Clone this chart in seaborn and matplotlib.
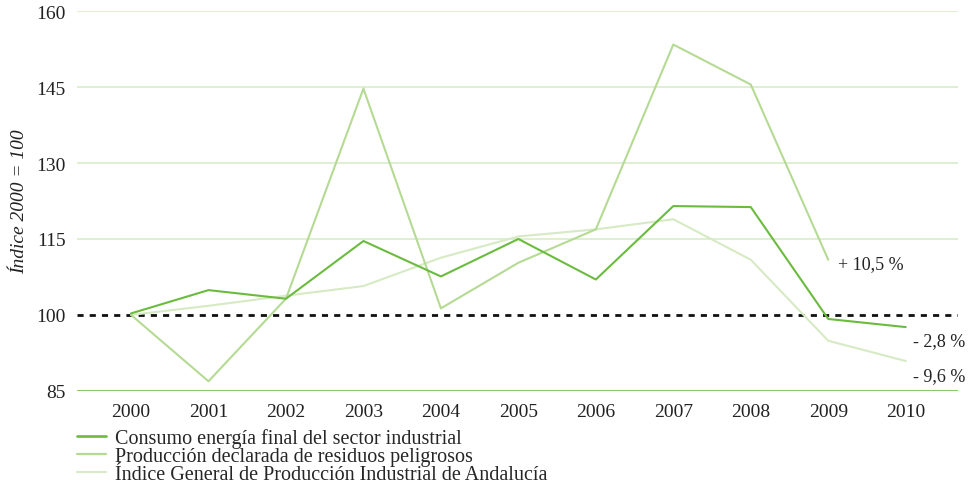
import numpy as np
import pandas as pd
import matplotlib
matplotlib.use("Agg")
import matplotlib.pyplot as plt
import seaborn as sns

# datos (indice 2000 = 100)
years = list(range(2000, 2011))
energia = [100.3, 104.9, 103.2, 114.6, 107.6, 115.0, 107.0, 121.5, 121.3, 99.2, 97.6]
residuos = [100.0, 86.9, 103.2, 144.7, 101.3, 110.3, 116.9, 153.4, 145.5, 110.9]
indice = [100.0, 101.8, 103.8, 105.7, 111.3, 115.5, 116.9, 118.9, 110.9, 94.9, 90.9]

series_names = [
    "Consumo energía final del sector industrial",
    "Producción declarada de residuos peligrosos",
    "Índice General de Producción Industrial de Andalucía",
]
series_colors = ["#6bbb3e", "#b5da94", "#d6eac4"]
y_ticks = [85, 100, 115, 130, 145, 160]
annotations = [("+ 10,5 %", 2009.12, 110.2), ("- 2,8 %", 2010.1, 95.0), ("- 9,6 %", 2010.1, 88.1)]

frames = []
for name, vals in zip(series_names, [energia, residuos, indice]):
    frames.append(pd.DataFrame({"year": years[:len(vals)], "valor": vals, "serie": name}))
df = pd.concat(frames, ignore_index=True)

sns.set_theme(style="white")
plt.rcParams["font.family"] = ["Liberation Serif", "DejaVu Serif"]

fig = plt.figure(figsize=(9.72, 4.85), dpi=100)
ax = fig.add_axes([0.079, 0.192, 0.907, 0.783])

# rejilla
for t in y_ticks[2:]:
    ax.axhline(t, color="#d9ecc9", lw=1.2, zorder=0)
ax.axhline(85, color="#8cc96a", lw=1.5, zorder=1)
ax.axhline(100, color="#111111", lw=2.0, ls=(0, (2.2, 2.2)), zorder=1)

sns.lineplot(data=df, x="year", y="valor", hue="serie", hue_order=series_names[::-1],
             palette=dict(zip(series_names, series_colors)), ax=ax, zorder=3)
for line, lw in zip(ax.get_lines()[-3:], [1.5, 1.6, 1.9]):
    line.set_linewidth(lw)

for txt, x, y in annotations:
    ax.text(x, y, txt, fontsize=13, va="center", ha="left", color="#222222")

ax.set_xlim(1999.3, 2010.68)
ax.set_ylim(85, 160)
ax.set_yticks(y_ticks)
ax.set_xticks(years)
ax.tick_params(axis="both", length=0, labelsize=14, colors="#222222")
ax.tick_params(axis="x", pad=9)
ax.tick_params(axis="y", pad=8)
ax.set_xlabel("")
ax.set_ylabel("Índice 2000 = 100", fontstyle="italic", fontsize=14, color="#222222", labelpad=6)
for s in ax.spines.values():
    s.set_visible(False)

handles, labels = ax.get_legend_handles_labels()
order = [labels.index(n) for n in series_names]
ax.legend([handles[i] for i in order], [labels[i] for i in order],
          loc="upper left", bbox_to_anchor=(0.0, -0.098), frameon=False,
          fontsize=14.5, borderpad=0, borderaxespad=0, labelspacing=-0.06,
          handlelength=1.45, handletextpad=0.45)
for lh, lw in zip(ax.get_legend().get_lines(), [1.9, 1.6, 1.5]):
    lh.set_linewidth(lw)

fig.savefig("out.png", dpi=100)
